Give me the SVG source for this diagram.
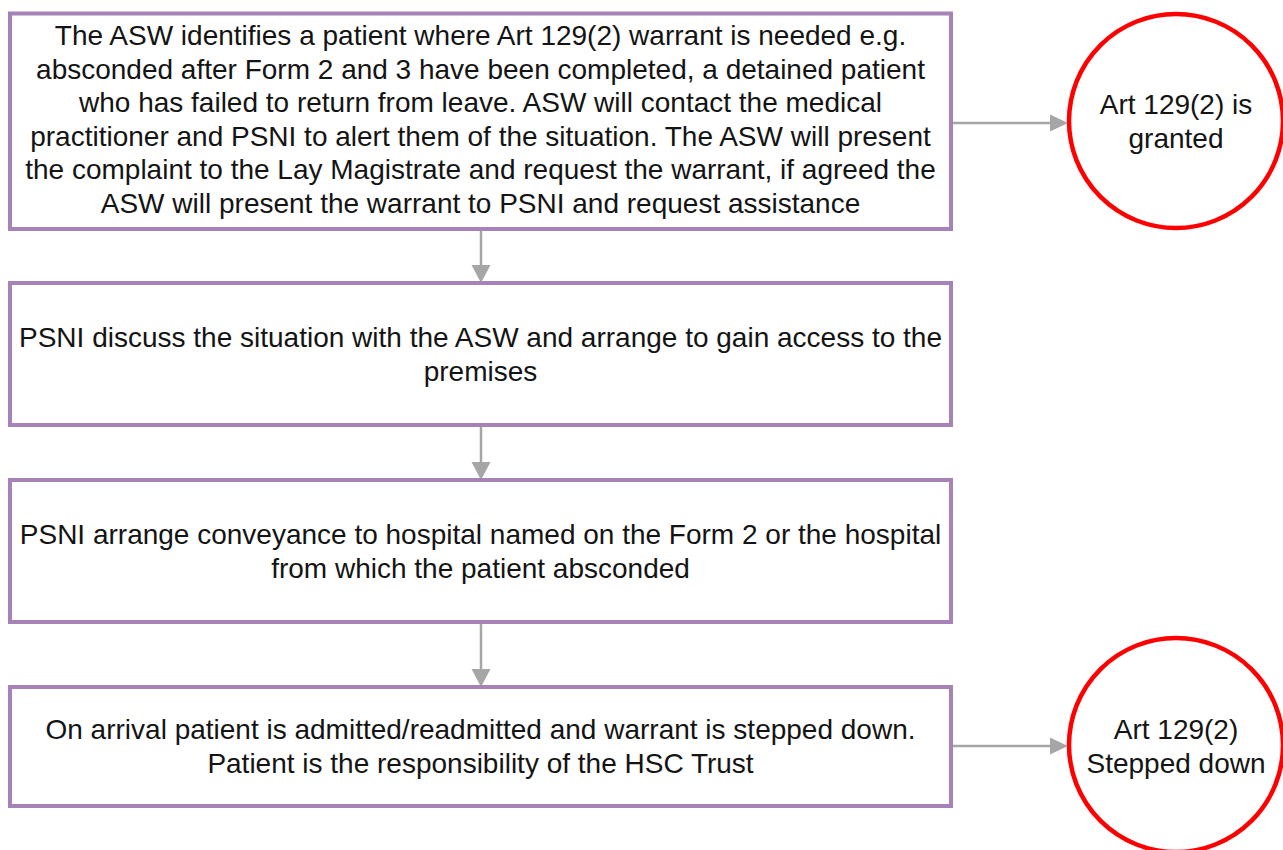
<svg xmlns="http://www.w3.org/2000/svg" width="1283" height="850" viewBox="0 0 1283 850">
<style>
.box{fill:#fff;stroke:#a682b8;stroke-width:4}
.circ{fill:#fff;stroke:#ff0000;stroke-width:4.5}
.t{font-family:"Liberation Sans",Arial,sans-serif;font-size:28px;fill:#141414;text-anchor:middle}
.c{stroke:#a6a6a6;stroke-width:2.5;fill:none}
.h{fill:#a6a6a6}
</style>
<rect width="1283" height="850" fill="#fff"/>
<g id="connectors">
<line class="c" x1="481" y1="229" x2="481" y2="266"/><polygon class="h" points="471.5,265 490.5,265 481,283"/>
<line class="c" x1="481" y1="425" x2="481" y2="463"/><polygon class="h" points="471.5,462 490.5,462 481,480"/>
<line class="c" x1="481" y1="622" x2="481" y2="670"/><polygon class="h" points="471.5,669 490.5,669 481,687"/>
<line class="c" x1="951" y1="123" x2="1051" y2="123"/><polygon class="h" points="1050,114.5 1050,131.5 1068,123"/>
<line class="c" x1="951" y1="746" x2="1051" y2="746"/><polygon class="h" points="1050,737.5 1050,754.5 1068,746"/>
</g>
<g id="node1">
<rect class="box" x="10" y="13.5" width="941" height="215.5"/>
<text class="t"><tspan x="480.5" y="45">The ASW identifies a patient where Art 129(2) warrant is needed e.g.</tspan><tspan x="480.5" y="78.6">absconded after Form 2 and 3 have been completed, a detained patient</tspan><tspan x="480.5" y="112.2">who has failed to return from leave. ASW will contact the medical</tspan><tspan x="480.5" y="145.8">practitioner and PSNI to alert them of the situation. The ASW will present</tspan><tspan x="480.5" y="179.4">the complaint to the Lay Magistrate and request the warrant, if agreed the</tspan><tspan x="480.5" y="213">ASW will present the warrant to PSNI and request assistance</tspan></text>
</g>
<g id="node2">
<rect class="box" x="10" y="283" width="941" height="142"/>
<text class="t"><tspan x="480.5" y="347">PSNI discuss the situation with the ASW and arrange to gain access to the</tspan><tspan x="480.5" y="380.6">premises</tspan></text>
</g>
<g id="node3">
<rect class="box" x="10" y="480" width="941" height="142"/>
<text class="t"><tspan x="480.5" y="544">PSNI arrange conveyance to hospital named on the Form 2 or the hospital</tspan><tspan x="480.5" y="577.6">from which the patient absconded</tspan></text>
</g>
<g id="node4">
<rect class="box" x="10" y="687" width="941" height="119"/>
<text class="t"><tspan x="480.5" y="739">On arrival patient is admitted/readmitted and warrant is stepped down.</tspan><tspan x="480.5" y="772.6">Patient is the responsibility of the HSC Trust</tspan></text>
</g>
<g id="circle1">
<circle class="circ" cx="1176" cy="121" r="107"/>
<text class="t"><tspan x="1176" y="114">Art 129(2) is</tspan><tspan x="1176" y="147.6">granted</tspan></text>
</g>
<g id="circle2">
<circle class="circ" cx="1176" cy="745" r="107"/>
<text class="t"><tspan x="1176" y="739">Art 129(2)</tspan><tspan x="1176" y="772.6">Stepped down</tspan></text>
</g>
</svg>
